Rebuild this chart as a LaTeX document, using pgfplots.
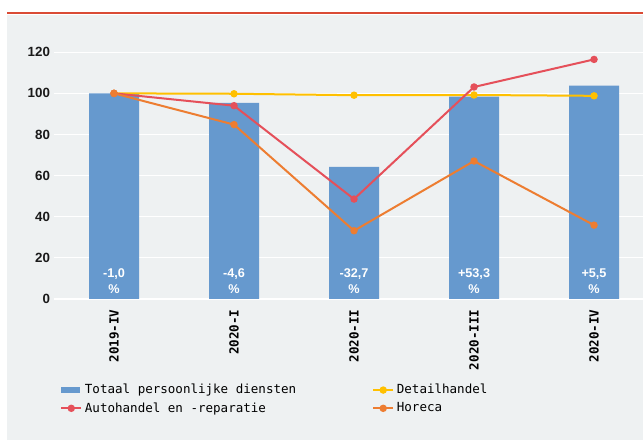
\documentclass[border=0pt]{standalone}
\usepackage{fontspec}
\setmainfont{Liberation Sans}
\newfontfamily\mono{DejaVu Sans Mono}
\usepackage{pgfplots}
\pgfplotsset{compat=1.18}
\definecolor{bg}{HTML}{EEF1F2}
\definecolor{barblue}{HTML}{6699CE}
\definecolor{redl}{HTML}{E5505A}
\definecolor{yell}{HTML}{FFC000}
\definecolor{oran}{HTML}{ED7D31}
\definecolor{topred}{HTML}{DA4B35}
\begin{document}
\begin{tikzpicture}
\fill[white] (0,0) rectangle (482.25pt,331.5pt);
\fill[bg] (5.25pt,1.5pt) rectangle (482.25pt,320.25pt);
\draw[topred, line width=1.6pt] (5.25pt,321.6pt) -- (482.25pt,321.6pt);
\begin{axis}[
  at={(40.5pt,107.25pt)}, anchor=south west,
  scale only axis, width=441.75pt, height=200.5pt,
  xmin=-0.5, xmax=4.408, ymin=0, ymax=130,
  axis line style={draw=none},
  xtick={0,...,4},
  xticklabels={2019-IV,2020-I,2020-II,2020-III,2020-IV},
  x tick label style={rotate=90, anchor=east, font=\mono\bfseries\fontsize{9.4}{10}\selectfont},
  xticklabel shift=4.5pt,
  ytick={0,20,...,120},
  y tick label style={font=\bfseries\fontsize{10}{11}\selectfont, text=black!90, xshift=0.5pt},
  major tick length=0pt,
  ymajorgrids, grid style={white, line width=0.9pt},
  /pgf/number format/assume math mode=true,
  clip=false,
  legend columns=2,
  legend cell align=left,
  legend style={at={(0.0102,-0.308)}, anchor=north west, draw=none, fill=none,
    font=\mono\fontsize{9.4}{11}\selectfont, inner sep=0pt, row sep=1pt,
    /tikz/every even column/.append style={column sep=55pt}},
  legend image code/.code={\draw[mark repeat=2,mark phase=2,#1] plot coordinates {(0pt,0pt) (7.5pt,0pt) (15pt,0pt)};},
]
\addplot[ybar, bar width=37.5pt, fill=barblue, draw=none,
  legend image code/.code={\fill[barblue] (0pt,-2.25pt) rectangle (14.25pt,2.25pt);}]
  coordinates {(0,100) (1,95.4) (2,64.2) (3,98.4) (4,103.8)};
\addlegendentry{Totaal persoonlijke diensten}
\addplot[yell, line width=1.5pt, mark=*, mark size=2pt]
  coordinates {(0,100) (1,99.8) (2,99.1) (3,99.2) (4,98.8)};
\addlegendentry{Detailhandel}
\addplot[redl, line width=1.5pt, mark=*, mark size=2pt]
  coordinates {(0,100) (1,94.0) (2,48.6) (3,103.1) (4,116.5)};
\addlegendentry{Autohandel en -reparatie}
\addplot[oran, line width=1.5pt, mark=*, mark size=2pt]
  coordinates {(0,100) (1,84.8) (2,33.2) (3,67.1) (4,35.9)};
\addlegendentry{Horeca}
\node[white, font=\bfseries\fontsize{9.5}{12}\selectfont, align=center] at (axis cs:0,8.7) {-1,0\\\%};
\node[white, font=\bfseries\fontsize{9.5}{12}\selectfont, align=center] at (axis cs:1,8.7) {-4,6\\\%};
\node[white, font=\bfseries\fontsize{9.5}{12}\selectfont, align=center] at (axis cs:2,8.7) {-32,7\\\%};
\node[white, font=\bfseries\fontsize{9.5}{12}\selectfont, align=center] at (axis cs:3,8.7) {+53,3\\\%};
\node[white, font=\bfseries\fontsize{9.5}{12}\selectfont, align=center] at (axis cs:4,8.7) {+5,5\\\%};
\end{axis}
\pgfresetboundingbox
\path (0,0) rectangle (482.25pt,331.5pt);
\end{tikzpicture}
\end{document}
